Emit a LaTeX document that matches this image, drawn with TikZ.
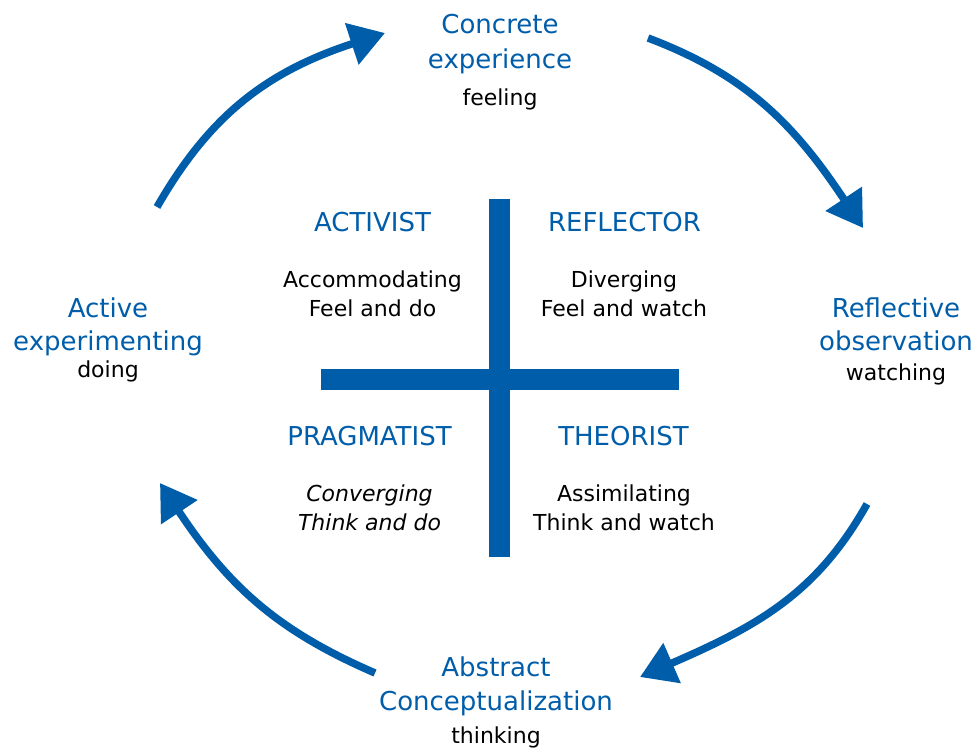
\documentclass[tikz,border=0pt]{standalone}
\usepackage{fontspec}
\setmainfont{DejaVu Sans}
\usetikzlibrary{arrows.meta}
\definecolor{kblue}{RGB}{0,93,170}
\begin{document}
\begin{tikzpicture}[x=1pt,y=-1pt,
  bl/.style={font=\fontsize{26}{30}\selectfont, text=kblue, anchor=base, inner sep=0pt},
  bk/.style={font=\fontsize{22}{26}\selectfont, text=black, anchor=base, inner sep=0pt},
  cyc/.style={draw=kblue, line width=7.5pt, -{Triangle[length=35pt,width=42pt]}},
  barbox/.style={fill=kblue, draw=none, inner sep=0pt}]
\useasboundingbox (0,0) rectangle (974,747);

% cross
\node[barbox, minimum width=358pt, minimum height=21pt] (hbar) at (500,379.5) {};
\node[barbox, minimum width=21pt, minimum height=358pt] (vbar) at (499.5,378) {};

% outer labels
\node[bl] (ce1) at (500,33) {Concrete};
\node[bl] (ce2) at (500,68) {experience};
\node[bk] (ce3) at (500,105) {feeling};

\node[bl] (ae1) at (108,317) {Active};
\node[bl] (ae2) at (108,350) {experimenting};
\node[bk] (ae3) at (108,377) {doing};

\node[bl] (ro1) at (896,317) {Reflective};
\node[bl] (ro2) at (896,350) {observation};
\node[bk] (ro3) at (896,380) {watching};

\node[bl] (ac1) at (496,676) {Abstract};
\node[bl] (ac2) at (496,710) {Conceptualization};
\node[bk] (ac3) at (496,743) {thinking};

% quadrant labels
\node[bl] (q1a) at (372.5,231) {ACTIVIST};
\node[bk] (q1b) at (372.5,287) {Accommodating};
\node[bk] (q1c) at (372.5,316) {Feel and do};

\node[bl] (q2a) at (624.5,231) {REFLECTOR};
\node[bk] (q2b) at (624,287) {Diverging};
\node[bk] (q2c) at (624,316) {Feel and watch};

\node[bl] (q3a) at (369.5,445) {PRAGMATIST};
\node[bk] (q3b) at (369.5,501) {\itshape Converging};
\node[bk] (q3c) at (369.5,530) {\itshape Think and do};

\node[bl] (q4a) at (623.5,445) {THEORIST};
\node[bk] (q4b) at (624,501) {Assimilating};
\node[bk] (q4c) at (624,530) {Think and watch};

% cycle arrows
\coordinate (a1s) at (157,207);
\coordinate (a1e) at (385,33);
\coordinate (a2s) at (648,38);
\coordinate (a2e) at (863,228);
\coordinate (a3s) at (867,504);
\coordinate (a3e) at (640,677);
\coordinate (a4s) at (375,673);
\coordinate (a4e) at (160,483);

\draw[cyc] (a1s) .. controls (209.5,115.6) and (266,72) .. (a1e);
\draw[cyc] (a2s) .. controls (746,75) and (794,124) .. (a2e);
\draw[cyc] (a3s) .. controls (816,595) and (755,627) .. (a3e);
\draw[cyc] (a4s) .. controls (278,631) and (229,587) .. (a4e);
\end{tikzpicture}
\end{document}
